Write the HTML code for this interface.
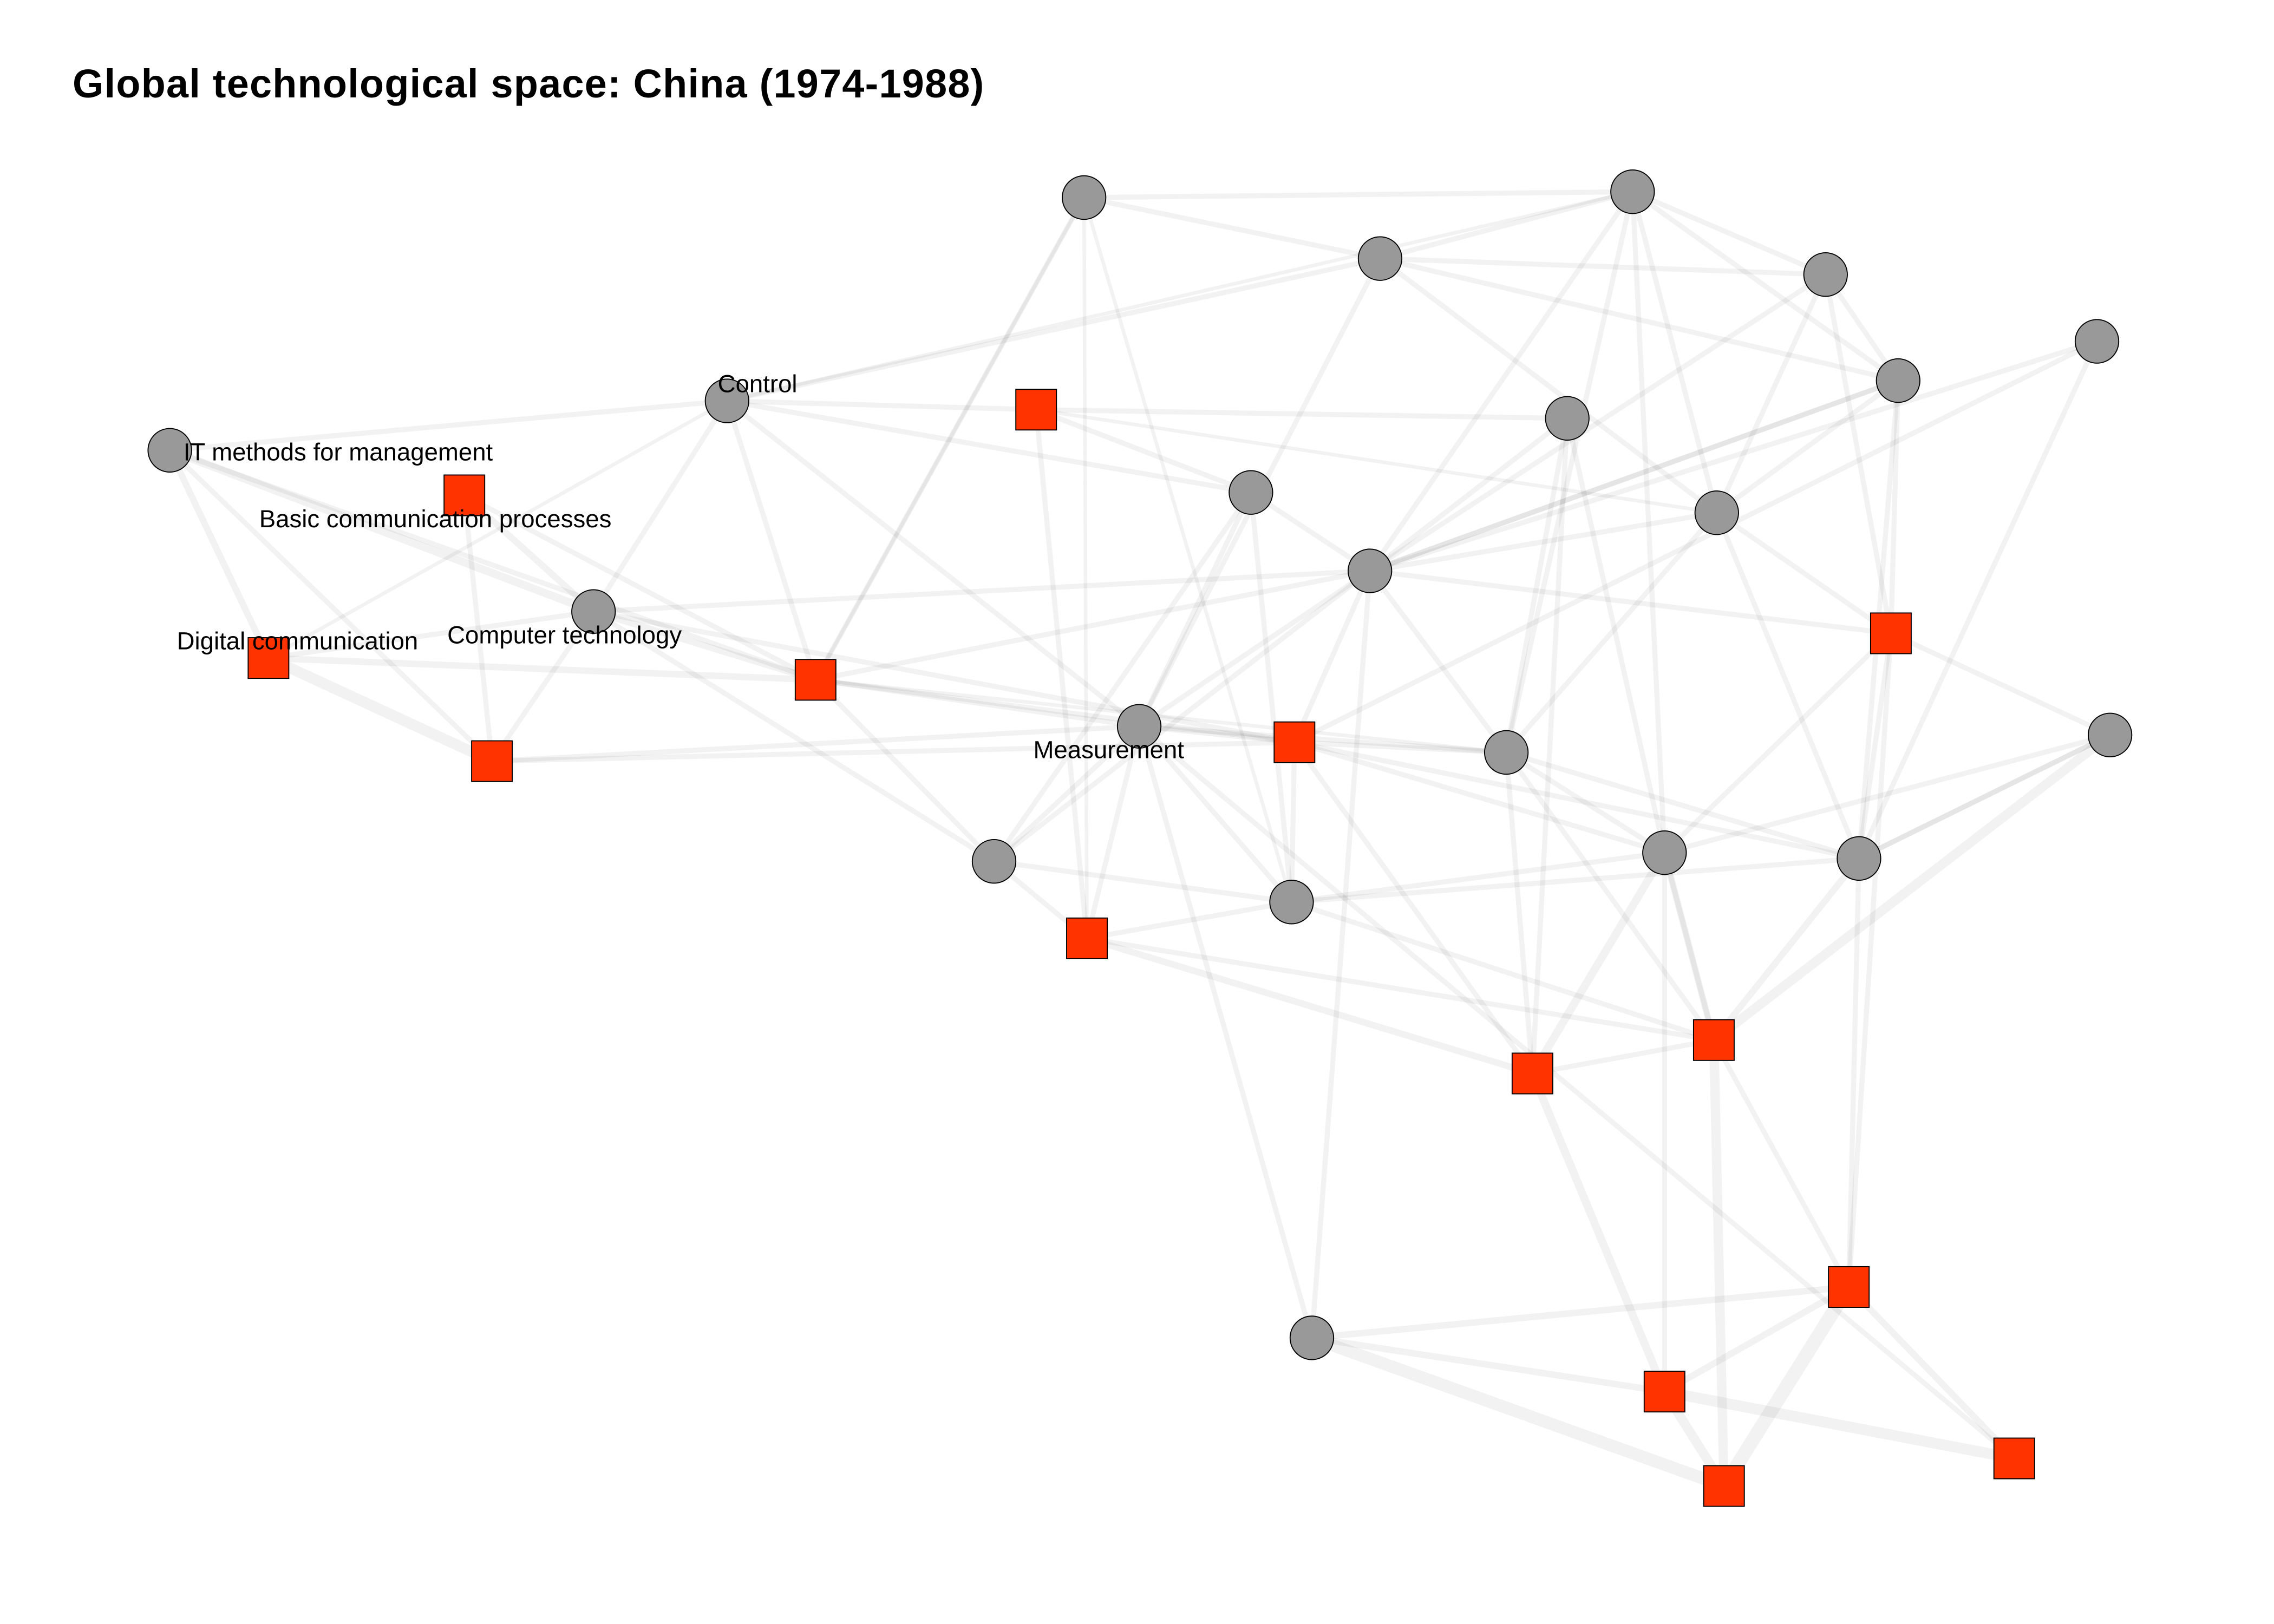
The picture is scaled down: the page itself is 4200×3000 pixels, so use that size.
<!DOCTYPE html>
<html><head><meta charset="utf-8"><style>
html,body{margin:0;padding:0;background:#fff}
svg{display:block}
text{font-family:"Liberation Sans",Arial,sans-serif}
</style></head><body>
<svg id="chart" width="4200" height="3000" viewBox="0 0 1567 1118" preserveAspectRatio="none" xmlns="http://www.w3.org/2000/svg">
<rect width="1567" height="1118" fill="#fff"/>
<text x="50" y="67" font-size="27.5" font-weight="bold" fill="#000" textLength="628">Global technological space: China (1974-1988)</text>
<g id="edges"></g>
<g id="nodes"></g>
<g id="labels"></g>
</svg>
<script>
const nodeIds=["c1","c2","c3","c4","c5","c6","c7","c8","c9","c10","c11","c12","c13","c14","c15","c16","c17","c18","c19","c20","c21","s1","s2","s3","s4","s5","s6","s7","s8","s9","s10","s11","s12","s13","s14"];
const nodeX=[747,1125,951,1258,1445,1308,501,1080,117,862,1183,944,409,785,1454,1038,1147,1281,685,890,904,714,320,185,562,1303,339,892,749,1181,1056,1274,1147,1388,1188];
const nodeY=[136,132,178,189,235,262,276,288,310,339,353,393,421,500,506,518,587,591,593,621,921,282,341,453,468,436,524,511,646,716,739,886,958,1004,1023];
const nodeLabels={c7:"Control",c9:"IT methods for management",s2:"Basic communication processes",s3:"Digital communication",c13:"Computer technology",c14:"Measurement"};
const labelDX={c7:21,c9:116,s2:-20,s3:20,c13:-20,c14:-21};
const labelDY={c7:-12,c9:1,s2:16,s3:-12,c13:16,c14:16};
const edgeFrom=["c9","c9","c9","c9","c9","s2","s2","s2","s3","s3","s3","s3","c13","c13","c13","c13","c13","c7","c7","c7","c7","c7","c7","s1","s1","s1","s1","s4","s4","s4","s4","s4","s4","s6","s6","s6","c1","c1","c1","c1","c1","c3","c3","c3","c3","c3","c2","c2","c2","c2","c2","c2","c4","c4","c4","c4","c6","c6","c6","c6","c5","c5","c5","c8","c8","c8","c8","c10","c10","c10","c10","c11","c11","c11","c11","c12","c12","c12","c12","c12","c12","c14","c14","c14","c14","c14","s7","s7","s7","s7","s7","c16","c16","c16","c16","s5","s5","s5","s5","c15","c15","c15","c19","c19","c19","c20","c20","c20","s8","s8","s8","c17","c17","c17","c18","c18","c18","s10","s10","s9","s9","s9","s11","s11","s11","c21","c21","c21","s12","s12","s14","c14","c12"];
const edgeTo=["c7","s3","c13","s6","s4","c13","s6","s4","s6","s4","c13","c7","s4","c19","s7","c12","c7","s1","c10","c3","c2","s4","c14","c10","c11","s8","c8","c14","s7","c16","c12","c19","c1","s7","c14","c13","c3","c2","s4","s8","c20","c2","c6","c11","c4","c14","c4","c6","c12","c17","c16","c11","c6","s5","c11","c12","c11","s5","c18","c12","c12","c18","s7","c12","c16","c17","s10","c12","c20","c19","c14","s5","c12","c16","c18","c16","c14","c19","s7","s5","c6","s7","s8","c16","c21","c20","c16","s10","c17","c18","c20","c17","c18","s10","s9","c17","c18","c15","s11","c18","s9","c17","s8","c20","c14","c17","c18","s9","s9","s10","c20","s10","s9","s12","s11","s9","c15","s9","s12","s11","s14","c17","s14","s12","s13","s12","s14","s11","s13","s14","s14","s13","c21","s10"];
const edgeWeight=[3,4,5,3,3,4,3,3,7,4,3,2,4,3,3,3,3,3,3,3,2,3,3,3,2,3,3,3,3,2,3,3,2,3,3,3,3,3,3,2,2,3,3,3,3,3,3,3,3,3,3,3,3,3,3,3,3,3,3,3,3,3,3,3,3,3,3,3,3,3,3,3,3,3,3,3,3,3,3,3,3,3,3,3,3,3,3,3,3,3,3,3,3,3,3,3,3,3,3,3,6,3,3,3,3,3,3,3,3,4,3,5,4,3,3,4,3,3,5,3,6,3,9,4,4,4,8,4,7,6,5,3,3];
const svgns="http://www.w3.org/2000/svg";
const idx={};nodeIds.forEach((id,i)=>idx[id]=i);
const eg=document.getElementById('edges');
edgeFrom.forEach((f,i)=>{
  const a=idx[f],b=idx[edgeTo[i]];
  const l=document.createElementNS(svgns,'line');
  
  
  l.setAttribute('x1',nodeX[a]);l.setAttribute('y1',nodeY[a]);
  l.setAttribute('x2',nodeX[b]);l.setAttribute('y2',nodeY[b]);
  l.setAttribute('stroke','#000');l.setAttribute('stroke-opacity','0.05');
  l.setAttribute('stroke-width',(edgeWeight[i]||3)+0.5);
  eg.appendChild(l);
});
const ng=document.getElementById('nodes');
nodeIds.forEach((id,i)=>{
  let el;
  if(id[0]==='c'){
    el=document.createElementNS(svgns,'circle');
    el.setAttribute('cx',nodeX[i]);el.setAttribute('cy',nodeY[i]);el.setAttribute('r',15);
    el.setAttribute('fill','#999');
  }else{
    el=document.createElementNS(svgns,'rect');
    el.setAttribute('x',nodeX[i]-14);el.setAttribute('y',nodeY[i]-14);
    el.setAttribute('width',28);el.setAttribute('height',28);
    el.setAttribute('fill','#ff3300');
  }
  el.setAttribute('stroke','#000');el.setAttribute('stroke-width','0.7');
  
  
  ng.appendChild(el);
});
const lg=document.getElementById('labels');
Object.keys(nodeLabels).forEach(id=>{
  const i=idx[id];
  const t=document.createElementNS(svgns,'text');
  
  
  t.setAttribute('x',nodeX[i]+labelDX[id]);t.setAttribute('y',nodeY[i]+labelDY[id]+6);
  t.setAttribute('text-anchor','middle');t.setAttribute('font-size','17');
  t.textContent=nodeLabels[id];
  lg.appendChild(t);
});
</script>
</body></html>
